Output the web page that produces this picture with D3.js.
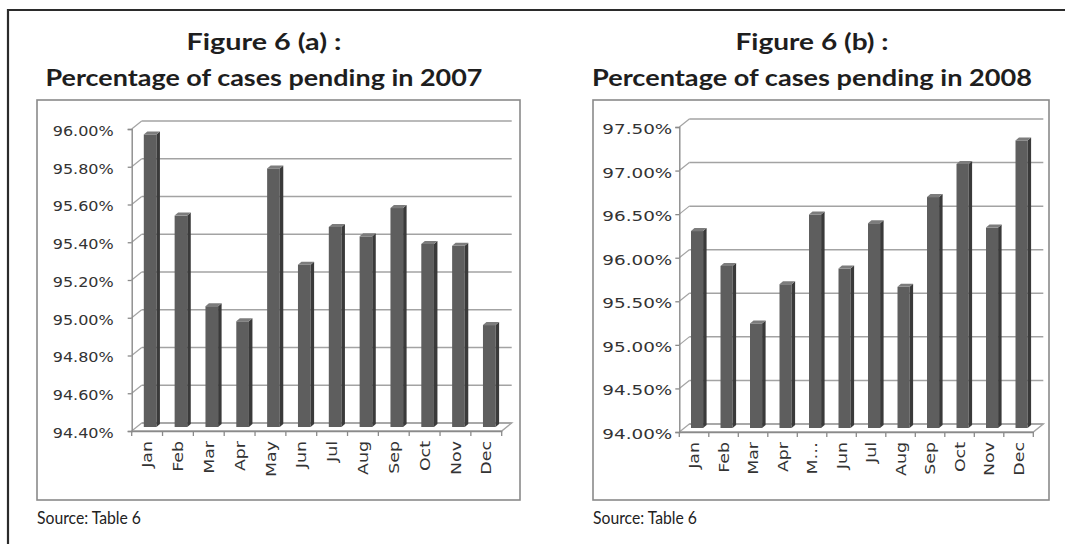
<!DOCTYPE html>
<html><head><meta charset="utf-8">
<script src="https://cdn.jsdelivr.net/npm/d3@7"></script>
<style>html,body{margin:0;padding:0;background:#fff;}svg{display:block;}</style>
</head><body>
<svg id="c" width="1065" height="544"></svg>
<script>
const months = ["Jan","Feb","Mar","Apr","May","Jun","Jul","Aug","Sep","Oct","Nov","Dec"];
const labelsA = ["Jan","Feb","Mar","Apr","May","Jun","Jul","Aug","Sep","Oct","Nov","Dec"];
const labelsB = ["Jan","Feb","Mar","Apr","M…","Jun","Jul","Aug","Sep","Oct","Nov","Dec"];
const values2007 = [95.95, 95.52, 95.04, 94.96, 95.77, 95.26, 95.46, 95.41, 95.56, 95.37, 95.36, 94.94];
const values2008 = [96.26, 95.86, 95.20, 95.65, 96.45, 95.83, 96.35, 95.62, 96.65, 97.03, 96.30, 97.30];
const ticks2007 = [94.4, 94.6, 94.8, 95.0, 95.2, 95.4, 95.6, 95.8, 96.0];
const ticks2008 = [94.0, 94.5, 95.0, 95.5, 96.0, 96.5, 97.0, 97.5];
const titlesA = ["Figure 6 (a) :", "Percentage of cases pending in 2007"];
const titlesB = ["Figure 6 (b) :", "Percentage of cases pending in 2008"];
const sourceText = "Source: Table 6";

const svg = d3.select("#c");

svg.append("path").attr("d","M8,544 L8,10 L1065,10").attr("fill","none").attr("stroke","#2b2b2b").attr("stroke-width",2.2);

function stretch(sel, f){
  sel.each(function(){
    const w = this.getComputedTextLength();
    d3.select(this).attr("textLength", w*f).attr("lengthAdjust","spacingAndGlyphs");
  });
}

function drawChart(cfg){
  const g = svg.append("g");
  g.append("rect").attr("x",cfg.box[0]).attr("y",cfg.box[1]).attr("width",cfg.box[2]-cfg.box[0]).attr("height",cfg.box[3]-cfg.box[1])
    .attr("fill","#fff").attr("stroke","#8a8a8a").attr("stroke-width",1.6);
  cfg.titles.forEach((t,i)=>{
    g.append("text").attr("x",cfg.titleX).attr("y",cfg.titleY[i]).attr("text-anchor","middle")
      .attr("font-family","Lato, 'Open Sans', sans-serif").attr("font-weight","bold").attr("font-size",23.5)
      .attr("fill","#1e1e1e").attr("textLength",cfg.titleW[i]).attr("lengthAdjust","spacingAndGlyphs").text(t);
  });
  g.append("text").attr("x",cfg.box[0]).attr("y",524).attr("font-family","Lato, sans-serif").attr("font-size",17.5)
    .attr("fill","#222").attr("textLength",104).attr("lengthAdjust","spacingAndGlyphs").text(sourceText);

  const x = d3.scaleBand().domain(cfg.labels).range(cfg.xr).paddingInner(0).paddingOuter(0);
  const y = d3.scaleLinear().domain(cfg.domain).range(cfg.yr);
  const dx = cfg.depth[0], dy = cfg.depth[1];
  const grid = "#a3a3a3";

  cfg.ticks.forEach(t=>{
    const yy = y(t);
    g.append("line").attr("x1",cfg.xr[0]+dx).attr("x2",cfg.xr[1]+dx).attr("y1",yy+dy).attr("y2",yy+dy)
      .attr("stroke",grid).attr("stroke-width",1.5);
    g.append("line").attr("x1",cfg.xr[0]).attr("x2",cfg.xr[0]+dx).attr("y1",yy).attr("y2",yy+dy)
      .attr("stroke",grid).attr("stroke-width",1.2);
  });
  const y0 = y(cfg.domain[0]);
  g.append("path").attr("d",`M${cfg.xr[0]},${y0} L${cfg.xr[1]},${y0} L${cfg.xr[1]+dx},${y0+dy} L${cfg.xr[0]+dx},${y0+dy}`)
    .attr("fill","none").attr("stroke",grid).attr("stroke-width",1.4);
  const yAxis = d3.axisLeft(y).tickValues(cfg.ticks).tickSize(4).tickFormat(d=>d.toFixed(2)+"%");
  const ya = g.append("g").attr("transform",`translate(${cfg.xr[0]},0)`).call(yAxis);
  ya.select(".domain").attr("stroke","#8a8a8a").attr("stroke-width",1.4);
  ya.selectAll(".tick line").attr("stroke","#8a8a8a").attr("stroke-width",1.3);
  ya.selectAll(".tick text").attr("font-family","'DejaVu Sans', Verdana, sans-serif").attr("font-size",14)
    .attr("fill","#333").attr("x",-cfg.labelGap).attr("dy","0.32em").attr("transform","translate(0,2)");
  ya.selectAll(".tick text").attr("textLength",cfg.yLabelW).attr("lengthAdjust","spacingAndGlyphs");
  const xAxis = d3.axisBottom(x).tickSize(5).tickSizeOuter(0);
  const xa = g.append("g").attr("transform",`translate(0,${y0})`).call(xAxis);
  xa.select(".domain").attr("stroke","#8a8a8a").attr("stroke-width",1.4);
  xa.selectAll(".tick line").attr("stroke","#8a8a8a").attr("stroke-width",1.3).attr("transform",`translate(${-x.bandwidth()/2},0)`);
  xa.append("line").attr("x1",cfg.xr[1]).attr("x2",cfg.xr[1]).attr("y1",0).attr("y2",5).attr("stroke","#8a8a8a").attr("stroke-width",1.3);
  xa.selectAll(".tick text").attr("font-family","'DejaVu Sans', Verdana, sans-serif").attr("font-size",14.5)
    .attr("fill","#333").attr("text-anchor","end").attr("y",0).attr("dy","0.35em")
    .attr("transform","translate(0,10) rotate(-90)");
  stretch(xa.selectAll(".tick text"), 1.2);

  const bw = x.bandwidth()*0.41, sd = 3.5, sh = 3;
  const base = y0 - 4;
  cfg.values.forEach((v,i)=>{
    const cx = x(cfg.labels[i]) + x.bandwidth()/2 + 3;
    const xl = cx - bw/2, xr = cx + bw/2;
    const yt = y(v) - 4;
    g.append("rect").attr("x",xl).attr("y",yt).attr("width",bw).attr("height",base-yt).attr("fill","#5e5e5e");
    g.append("path").attr("d",`M${xr},${yt} L${xr+sd},${yt-sh} L${xr+sd},${base-sh} L${xr},${base} Z`).attr("fill","#3a3a3a");
    g.append("path").attr("d",`M${xl},${yt} L${xl+sd},${yt-sh} L${xr+sd},${yt-sh} L${xr},${yt} Z`).attr("fill","#7c7c7c");
  });
}

drawChart({
  box:[37,100,520,500], titles:titlesA, titleX:264, titleY:[50,86], titleW:[155,437],
  labels:labelsA, values:values2007, ticks:ticks2007, domain:[94.4,96.0],
  xr:[131.7,501.7], yr:[431,129], depth:[10,-8], labelGap:18, yLabelW:61
});
drawChart({
  box:[593,100,1049,500], titles:titlesB, titleX:812, titleY:[50,86], titleW:[153,440],
  labels:labelsB, values:values2008, ticks:ticks2008, domain:[94.0,97.5],
  xr:[679.3,1033.3], yr:[432,127], depth:[10,-8], labelGap:7, yLabelW:70
});
</script>
</body></html>
